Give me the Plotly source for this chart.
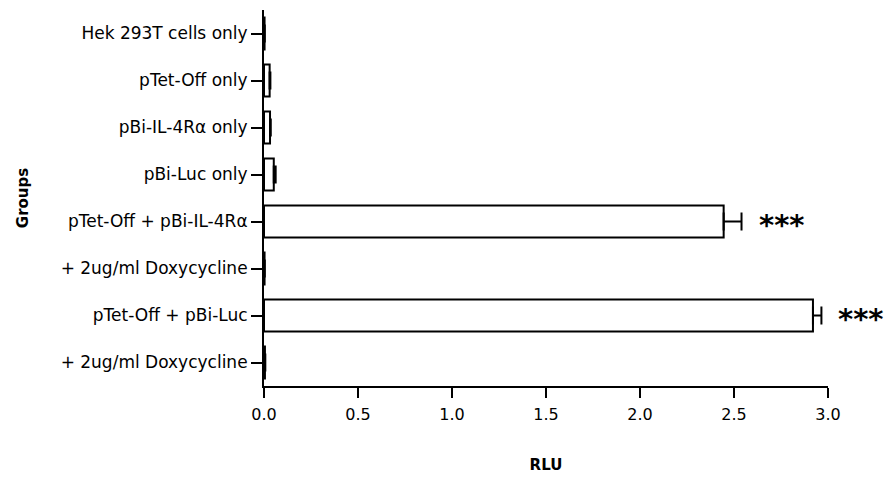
import plotly.graph_objects as go

# Relative luciferase activity per transfection group
groups = [
    "Hek 293T cells only",
    "pTet-Off only",
    "pBi-IL-4Rα only",
    "pBi-Luc only",
    "pTet-Off + pBi-IL-4Rα",
    "+ 2ug/ml Doxycycline",
    "pTet-Off + pBi-Luc",
    "+ 2ug/ml Doxycycline",
]
rlu_mean = [0.003, 0.030, 0.032, 0.052, 2.445, 0.003, 2.920, 0.005]
rlu_sem = [0.001, 0.004, 0.004, 0.010, 0.095, 0.001, 0.045, 0.002]
significance = ["", "", "", "", "***", "", "***", ""]

x_ticks = [0.0, 0.5, 1.0, 1.5, 2.0, 2.5, 3.0]
x_tick_text = ["0.0", "0.5", "1.0", "1.5", "2.0", "2.5", "3.0"]

FONT = "DejaVu Sans"

# Two groups share a label, so bars sit at integer row positions
rows = list(range(len(groups)))

fig = go.Figure()
fig.add_trace(go.Bar(
    x=rlu_mean,
    y=rows,
    orientation="h",
    width=0.68,
    marker=dict(color="white", line=dict(color="black", width=2)),
    error_x=dict(
        type="data",
        symmetric=False,
        array=rlu_sem,
        arrayminus=[0] * len(rlu_sem),
        color="black",
        thickness=2,
        width=9,
    ),
    showlegend=False,
))

for r, m, s, label in zip(rows, rlu_mean, rlu_sem, significance):
    if label:
        fig.add_annotation(
            x=m + s, y=r, xref="x", yref="y",
            text=f"<b>{label}</b>",
            showarrow=False, xanchor="left", yanchor="middle",
            xshift=15, yshift=-3,
            font=dict(family=FONT, size=29, color="black"),
        )

fig.update_layout(
    width=886, height=481,
    margin=dict(l=264, r=58, t=10, b=95),
    paper_bgcolor="white",
    plot_bgcolor="white",
    font=dict(family=FONT, color="black"),
)

fig.update_xaxes(
    range=[0, 3.0],
    tickvals=x_ticks,
    ticktext=x_tick_text,
    ticks="outside", ticklen=10, tickwidth=2, tickcolor="black",
    ticklabelstandoff=3,
    showline=True, linecolor="black", linewidth=2,
    showgrid=False, zeroline=False,
    tickfont=dict(family=FONT, size=16, color="black"),
    title=dict(text="<b>RLU</b>", font=dict(family=FONT, size=15, color="black"), standoff=36),
)

fig.update_yaxes(
    range=[7.5, -0.5],
    tickvals=rows,
    ticktext=groups,
    ticks="outside", ticklen=11, tickwidth=2, tickcolor="black",
    showline=True, linecolor="black", linewidth=2,
    showgrid=False, zeroline=False,
    tickfont=dict(family=FONT, size=17, color="black"),
    title=dict(text="<b>Groups</b>", font=dict(family=FONT, size=15, color="black"), standoff=28),
)

fig.write_html("out.html")
